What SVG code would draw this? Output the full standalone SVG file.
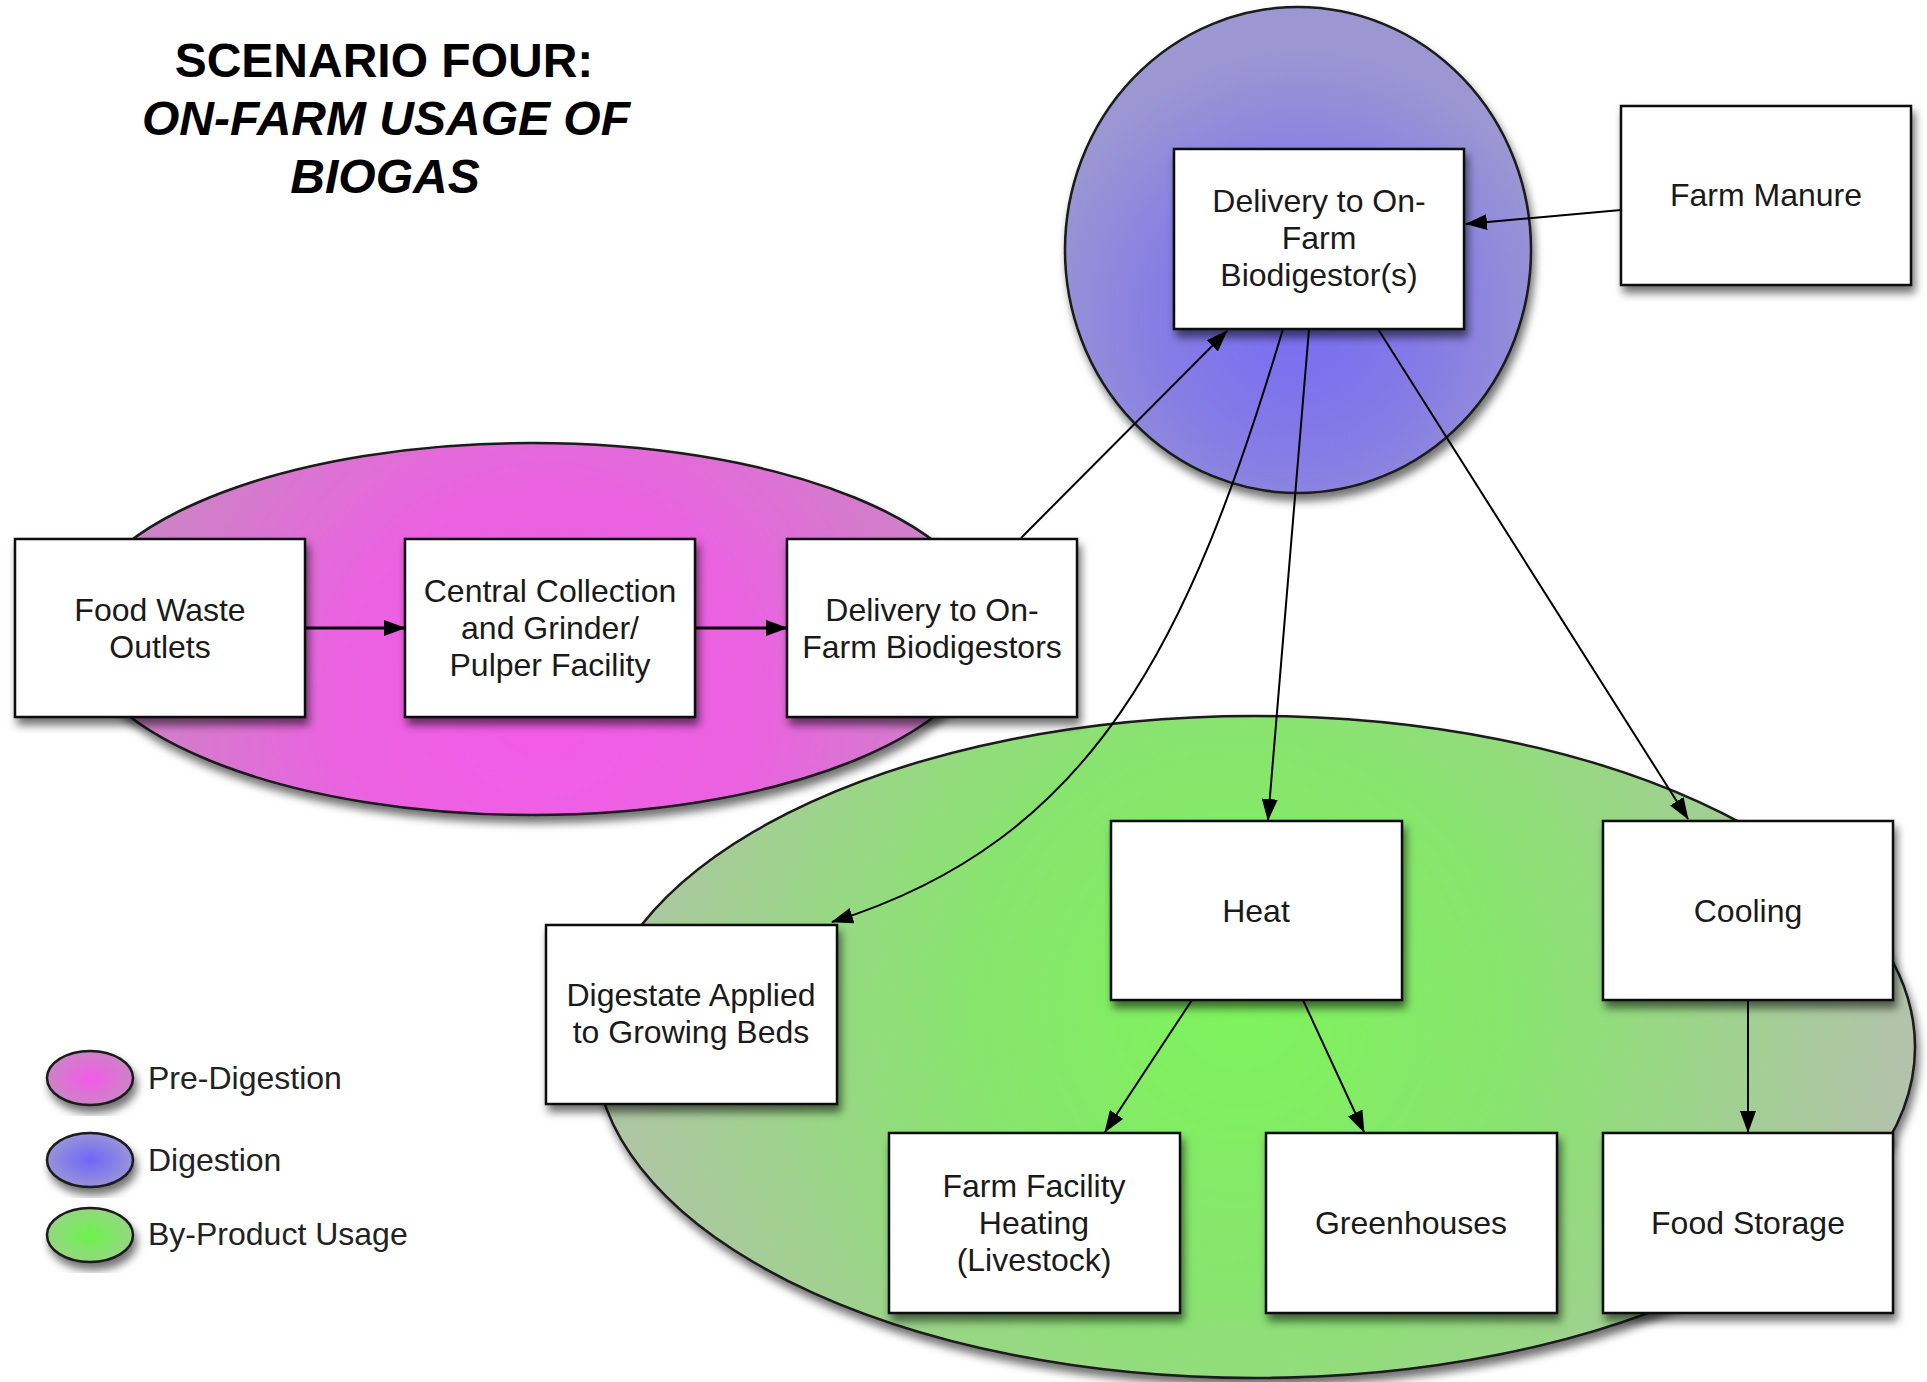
<svg xmlns="http://www.w3.org/2000/svg" width="1927" height="1382" viewBox="0 0 1927 1382">
  <defs>
    <style>
      .box { fill: #ffffff; stroke: #111; stroke-width: 2.5; filter: url(#shadow); }
      .lbl { font-family: "Liberation Sans", Arial, Helvetica, sans-serif; font-size: 32px; fill: #1a1a1a; text-anchor: middle; }
      .title { font-family: "Liberation Sans", Arial, Helvetica, sans-serif; font-size: 48px; font-weight: bold; fill: #000; text-anchor: middle; }
      .legend { font-family: "Liberation Sans", Arial, Helvetica, sans-serif; font-size: 32px; fill: #222; }
      .zone { stroke: #1a1a1a; stroke-width: 2.5; filter: url(#shadow); }
      .conn { fill: none; stroke: #000; stroke-width: 2; marker-end: url(#arrow); }
      .conn-thick { fill: none; stroke: #000; stroke-width: 3; marker-end: url(#arrow); }
    </style>
    <filter id="shadow" x="-10%" y="-10%" width="125%" height="130%">
      <feDropShadow dx="3" dy="7" stdDeviation="4" flood-color="#000" flood-opacity="0.55"/>
    </filter>
    <marker id="arrow" viewBox="0 0 22 16" refX="21" refY="8" markerWidth="22" markerHeight="16" markerUnits="userSpaceOnUse" orient="auto">
      <path d="M0,0 L22,8 L0,16 Z" fill="#000"/>
    </marker>
    <!-- zone gradients -->
    <radialGradient id="gPink" gradientUnits="userSpaceOnUse" cx="545" cy="700" r="480">
      <stop offset="0" stop-color="#f45ae9"/>
      <stop offset="0.45" stop-color="#ea63e0"/>
      <stop offset="1" stop-color="#c48cbe"/>
    </radialGradient>
    <radialGradient id="gBlue" gradientUnits="userSpaceOnUse" cx="1300" cy="320" r="270">
      <stop offset="0" stop-color="#776cf2"/>
      <stop offset="0.5" stop-color="#857ce6"/>
      <stop offset="1" stop-color="#9c97d2"/>
    </radialGradient>
    <radialGradient id="gGreen" gradientUnits="userSpaceOnUse" cx="1240" cy="1010" r="690">
      <stop offset="0" stop-color="#7ef45c"/>
      <stop offset="0.4" stop-color="#88e46e"/>
      <stop offset="1" stop-color="#b6c0ae"/>
    </radialGradient>
    <radialGradient id="lPink" cx="0.5" cy="0.5" r="0.6">
      <stop offset="0" stop-color="#f45ae9"/>
      <stop offset="1" stop-color="#c48cbe"/>
    </radialGradient>
    <radialGradient id="lBlue" cx="0.5" cy="0.5" r="0.6">
      <stop offset="0" stop-color="#6f66f8"/>
      <stop offset="1" stop-color="#a09cd4"/>
    </radialGradient>
    <radialGradient id="lGreen" cx="0.5" cy="0.5" r="0.6">
      <stop offset="0" stop-color="#6cf44c"/>
      <stop offset="1" stop-color="#9ed08e"/>
    </radialGradient>
  </defs>

  <rect width="1927" height="1382" fill="#ffffff"/>

  <!-- title -->
  <g id="title">
    <text class="title" x="384" y="77">SCENARIO FOUR:</text>
    <text class="title" x="386" y="135" font-style="italic">ON-FARM USAGE OF</text>
    <text class="title" x="385" y="193" font-style="italic">BIOGAS</text>
  </g>

  <!-- stage zones -->
  <g id="zones">
    <ellipse id="zone-pre-digestion" class="zone" cx="532" cy="629" rx="456" ry="186" fill="url(#gPink)"/>
    <ellipse id="zone-by-product" class="zone" cx="1255" cy="1047" rx="660" ry="331" fill="url(#gGreen)"/>
    <ellipse id="zone-digestion" class="zone" cx="1298" cy="250" rx="233" ry="243" fill="url(#gBlue)"/>
  </g>

  <!-- connectors -->
  <g id="connectors">
    <line class="conn-thick" x1="305" y1="628" x2="405" y2="628"/>
    <line class="conn-thick" x1="695" y1="628" x2="787" y2="628"/>
    <line class="conn" x1="1021" y1="538" x2="1227" y2="331"/>
    <line class="conn" x1="1621" y1="210" x2="1466" y2="224"/>
    <path class="conn" d="M1283,329 C1190,640 1095,840 832,922"/>
    <line class="conn" x1="1309" y1="329" x2="1268" y2="820"/>
    <line class="conn" x1="1378" y1="329" x2="1688" y2="819"/>
    <line class="conn" x1="1192" y1="1000" x2="1105" y2="1132"/>
    <line class="conn" x1="1303" y1="1000" x2="1364" y2="1132"/>
    <line class="conn" x1="1748" y1="1000" x2="1748" y2="1132"/>
  </g>

  <!-- nodes -->
  <g id="food-waste-outlets">
    <rect class="box" x="15" y="539" width="290" height="178"/>
    <text class="lbl" x="160" y="621">Food Waste</text>
    <text class="lbl" x="160" y="658">Outlets</text>
  </g>
  <g id="central-collection">
    <rect class="box" x="405" y="539" width="290" height="178"/>
    <text class="lbl" x="550" y="602">Central Collection</text>
    <text class="lbl" x="550" y="639">and Grinder/</text>
    <text class="lbl" x="550" y="676">Pulper Facility</text>
  </g>
  <g id="delivery-biodigestors">
    <rect class="box" x="787" y="539" width="290" height="178"/>
    <text class="lbl" x="932" y="621">Delivery to On-</text>
    <text class="lbl" x="932" y="658">Farm Biodigestors</text>
  </g>
  <g id="delivery-biodigestor-s">
    <rect class="box" x="1174" y="149" width="290" height="180"/>
    <text class="lbl" x="1319" y="212">Delivery to On-</text>
    <text class="lbl" x="1319" y="249">Farm</text>
    <text class="lbl" x="1319" y="286">Biodigestor(s)</text>
  </g>
  <g id="farm-manure">
    <rect class="box" x="1621" y="106" width="290" height="179"/>
    <text class="lbl" x="1766" y="206">Farm Manure</text>
  </g>
  <g id="heat">
    <rect class="box" x="1111" y="821" width="291" height="179"/>
    <text class="lbl" x="1256" y="922">Heat</text>
  </g>
  <g id="cooling">
    <rect class="box" x="1603" y="821" width="290" height="179"/>
    <text class="lbl" x="1748" y="922">Cooling</text>
  </g>
  <g id="digestate">
    <rect class="box" x="546" y="925" width="291" height="179"/>
    <text class="lbl" x="691" y="1006">Digestate Applied</text>
    <text class="lbl" x="691" y="1043">to Growing Beds</text>
  </g>
  <g id="farm-facility-heating">
    <rect class="box" x="889" y="1133" width="291" height="180"/>
    <text class="lbl" x="1034" y="1197">Farm Facility</text>
    <text class="lbl" x="1034" y="1234">Heating</text>
    <text class="lbl" x="1034" y="1271">(Livestock)</text>
  </g>
  <g id="greenhouses">
    <rect class="box" x="1266" y="1133" width="291" height="180"/>
    <text class="lbl" x="1411" y="1234">Greenhouses</text>
  </g>
  <g id="food-storage">
    <rect class="box" x="1603" y="1133" width="290" height="180"/>
    <text class="lbl" x="1748" y="1234">Food Storage</text>
  </g>

  <!-- legend -->
  <g id="legend">
    <ellipse class="zone" cx="90" cy="1078" rx="43" ry="27" fill="url(#lPink)"/>
    <text class="legend" x="148" y="1089">Pre-Digestion</text>
    <ellipse class="zone" cx="90" cy="1160" rx="43" ry="27" fill="url(#lBlue)"/>
    <text class="legend" x="148" y="1171">Digestion</text>
    <ellipse class="zone" cx="90" cy="1235" rx="43" ry="27" fill="url(#lGreen)"/>
    <text class="legend" x="148" y="1245">By-Product Usage</text>
  </g>
</svg>
